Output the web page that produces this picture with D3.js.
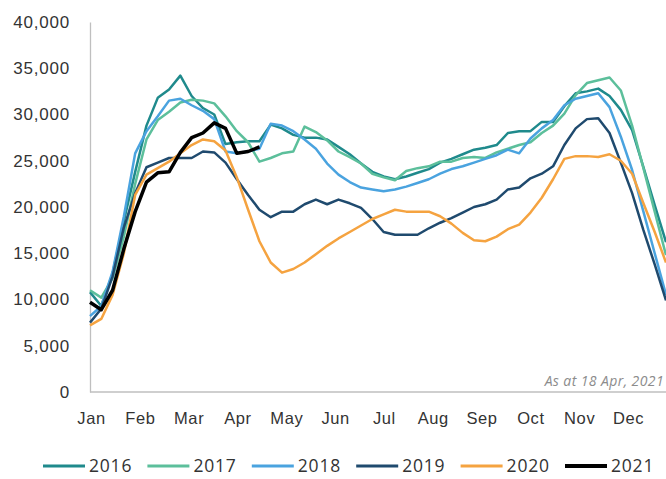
<!DOCTYPE html>
<html>
<head>
<meta charset="utf-8">
<script src="https://cdn.jsdelivr.net/npm/d3@7"></script>
<style>
  html, body { margin: 0; padding: 0; background: #fff; }
  svg { display: block; font-family: "Open Sans", "Liberation Sans", sans-serif; }
</style>
</head>
<body>
<div id="chart"></div>
<script>
// Month labels along the x axis
const months = ["Jan", "Feb", "Mar", "Apr", "May", "Jun", "Jul", "Aug", "Sep", "Oct", "Nov", "Dec"];
// Y tick values
const yTicks = [0, 5000, 10000, 15000, 20000, 25000, 30000, 35000, 40000];

// Weekly values, one per week
const s2016 = [10800, 9300, 12800, 18500, 23800, 28800, 31800, 32700, 34200, 32000, 30700, 30000, 26800, 27000, 27100, 27100,
  28900, 28500, 27800, 27500, 27500, 27300, 26500, 25700, 24700, 23800, 23300, 23000, 23300, 23700, 24100, 24800,
  25200, 25700, 26200, 26400, 26700, 28000, 28200, 28200, 29200, 29200, 30900, 32300, 32500, 32800, 32000, 30500,
  28300, 24300, 20200, 16200];
const s2017 = [11000, 10200, 12300, 16800, 22500, 27300, 29400, 30300, 31300, 31600, 31500, 31200, 29800, 28200, 27000, 24900,
  25300, 25800, 26000, 28700, 28100, 27200, 26000, 25400, 24700, 23600, 23200, 22900, 23900, 24200, 24400, 24900,
  24900, 25300, 25400, 25300, 25900, 26300, 26700, 27000, 28000, 28800, 30100, 32100, 33400, 33700, 34000, 32600,
  28800, 24200, 19500, 14800];
const s2018 = [8200, 9300, 13000, 19000, 25800, 28200, 29800, 31500, 31700, 31000, 30400, 29500, 26000, 25800, 26000, 26300,
  29000, 28800, 28200, 27300, 26300, 24700, 23500, 22700, 22100, 21900, 21700, 21900, 22200, 22600, 23000, 23600,
  24100, 24400, 24800, 25200, 25600, 26200, 25800, 27400, 28500, 29400, 31000, 31700, 32000, 32300, 30800, 27600,
  24000, 19500, 15000, 10500];
const s2019 = [7500, 9000, 12500, 17800, 21500, 24300, 24800, 25300, 25300, 25300, 26000, 25900, 24800, 23000, 21300, 19700,
  18900, 19500, 19500, 20300, 20800, 20300, 20800, 20400, 19900, 18700, 17300, 17000, 17000, 17000, 17700, 18300,
  18800, 19400, 20000, 20300, 20800, 21900, 22100, 23100, 23600, 24400, 26700, 28500, 29500, 29600, 28000, 24800,
  21500, 17500, 13800, 9900];
const s2020 = [7200, 7900, 10500, 15000, 21300, 23500, 24200, 24900, 25800, 26700, 27300, 27100, 26100, 23200, 19700, 16300,
  14000, 12900, 13300, 14000, 14900, 15800, 16600, 17300, 18000, 18700, 19200, 19700, 19500, 19500, 19500, 19000,
  18200, 17200, 16400, 16300, 16800, 17600, 18100, 19400, 21000, 23000, 25200, 25500, 25500, 25400, 25700, 25000,
  23600, 20400, 17300, 14000];
const s2021 = [9700, 8900, 11000, 15500, 19500, 22700, 23700, 23800, 25900, 27500, 28000, 29100, 28500, 25800, 26000, 26500];

const seriesNames = ["2016", "2017", "2018", "2019", "2020", "2021"];
const seriesValues = [s2016, s2017, s2018, s2019, s2020, s2021];
const seriesColors = ["#1f8a8c", "#5cbf9b", "#4aa3df", "#1f4a6e", "#f5a340", "#000000"];
const seriesWidths = [2.5, 2.5, 2.5, 2.5, 2.5, 3.5];

const noteText = "As at 18 Apr, 2021";

const width = 666, height = 479;
const plot = { left: 90, right: 666, top: 22, bottom: 392 };

const svg = d3.select("#chart").append("svg")
  .attr("width", width)
  .attr("height", height);

// Scales
const x = d3.scaleLinear().domain([0, 51]).range([plot.left, plot.right]);
const y = d3.scaleLinear().domain([0, 40000]).range([plot.bottom, plot.top]);
const xMonth = d3.scalePoint().domain(months).range([91, 628]);

// Y axis with labels
const yAxis = svg.append("g")
  .attr("transform", `translate(${plot.left},0)`)
  .call(d3.axisLeft(y).tickValues(yTicks).tickFormat(d3.format(",")).tickSize(0).tickPadding(20));
yAxis.select(".domain").attr("stroke", "#bfbfbf").attr("stroke-width", 1.3);
yAxis.selectAll("text")
  .attr("fill", "#333")
  .style("font-size", "17px")
  .style("letter-spacing", "0.8px");

// X axis: month labels, baseline drawn separately
const xAxis = svg.append("g")
  .attr("transform", `translate(0,${plot.bottom})`)
  .call(d3.axisBottom(xMonth).tickSize(0).tickPadding(20));
xAxis.select(".domain").remove();
xAxis.selectAll("text")
  .attr("fill", "#333")
  .style("font-size", "16.5px")
  .style("letter-spacing", "0.6px");

svg.append("line")
  .attr("x1", x(0)).attr("x2", x(51))
  .attr("y1", y(0)).attr("y2", y(0))
  .attr("stroke", "#bfbfbf")
  .attr("stroke-width", 1.3);

// Note in the corner
svg.append("text")
  .attr("x", plot.right - 2)
  .attr("y", plot.bottom - 6)
  .attr("text-anchor", "end")
  .attr("fill", "#8c8c8c")
  .style("font-style", "italic")
  .style("font-size", "14px")
  .style("letter-spacing", "0.4px")
  .text(noteText);

// Lines
const line = d3.line()
  .x((d, i) => x(i))
  .y(d => y(d));

svg.append("g")
  .selectAll("path")
  .data(seriesValues)
  .enter()
  .append("path")
  .attr("d", d => line(d))
  .attr("fill", "none")
  .attr("stroke", (d, i) => seriesColors[i])
  .attr("stroke-width", (d, i) => seriesWidths[i])
  .attr("stroke-linejoin", "round");

// Legend
const legend = svg.append("g")
  .attr("transform", "translate(43,466)")
  .selectAll("g")
  .data(seriesNames)
  .enter()
  .append("g")
  .attr("transform", (d, i) => `translate(${i * 104.4},0)`);

legend.append("line")
  .attr("x1", 0).attr("x2", 42)
  .attr("y1", 0).attr("y2", 0)
  .attr("stroke", (d, i) => seriesColors[i])
  .attr("stroke-width", (d, i) => seriesWidths[i] + 0.5);

legend.append("text")
  .attr("x", 46)
  .attr("dy", "0.36em")
  .attr("fill", "#333")
  .style("font-size", "17.5px")
  .style("letter-spacing", "0.8px")
  .text(d => d);
</script>
</body>
</html>
